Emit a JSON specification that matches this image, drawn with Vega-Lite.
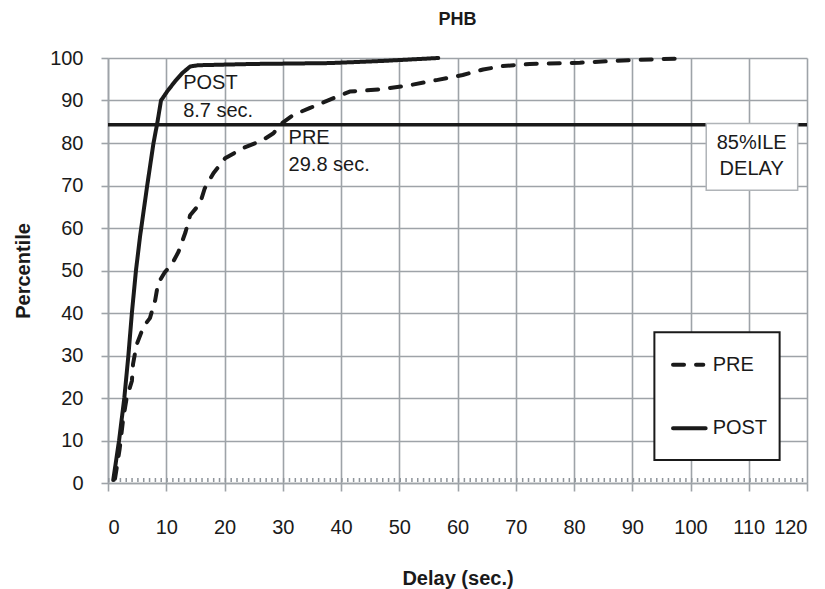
{
  "$schema": "https://vega.github.io/schema/vega-lite/v6.json",
  "autosize": "none",
  "width": 699,
  "height": 425,
  "padding": {"left": 108, "top": 58, "right": 18, "bottom": 106},
  "background": "white",
  "title": {"text": "PHB", "font": "Liberation Sans", "fontSize": 18, "fontWeight": "bold", "color": "#1a1a1a", "offset": 19, "anchor": "middle"},
  "config": {
    "view": {"stroke": null},
    "font": "Liberation Sans",
    "axis": {
      "gridColor": "#9ea3a8", "gridWidth": 1.6, "gridOpacity": 1,
      "domainColor": "#9ea3a8", "domainWidth": 1.6,
      "tickColor": "#9ea3a8", "tickWidth": 1.6,
      "labelFont": "Liberation Sans", "labelFontSize": 20, "labelColor": "#1a1a1a",
      "titleFont": "Liberation Sans", "titleFontSize": 20, "titleFontWeight": "bold", "titleColor": "#1a1a1a"
    }
  },
  "datasets": {
    "curves": [
      {"series": "POST", "delay": 0.9, "pct": 0.7},
      {"series": "POST", "delay": 1.9, "pct": 10},
      {"series": "POST", "delay": 2.8, "pct": 20},
      {"series": "POST", "delay": 3.5, "pct": 30},
      {"series": "POST", "delay": 4.1, "pct": 40},
      {"series": "POST", "delay": 4.8, "pct": 50},
      {"series": "POST", "delay": 5.5, "pct": 58},
      {"series": "POST", "delay": 6.7, "pct": 69.7},
      {"series": "POST", "delay": 7.8, "pct": 79.9},
      {"series": "POST", "delay": 8.5, "pct": 85},
      {"series": "POST", "delay": 9.1, "pct": 90},
      {"series": "POST", "delay": 10.2, "pct": 92.2},
      {"series": "POST", "delay": 11.5, "pct": 94.5},
      {"series": "POST", "delay": 12.8, "pct": 96.5},
      {"series": "POST", "delay": 14.1, "pct": 98},
      {"series": "POST", "delay": 15.5, "pct": 98.3},
      {"series": "POST", "delay": 25, "pct": 98.6},
      {"series": "POST", "delay": 38, "pct": 98.8},
      {"series": "POST", "delay": 47, "pct": 99.3},
      {"series": "POST", "delay": 56.7, "pct": 100},
      {"series": "PRE", "delay": 1.2, "pct": 1},
      {"series": "PRE", "delay": 2.0, "pct": 8},
      {"series": "PRE", "delay": 2.6, "pct": 15},
      {"series": "PRE", "delay": 3.2, "pct": 20},
      {"series": "PRE", "delay": 4.1, "pct": 24},
      {"series": "PRE", "delay": 4.3, "pct": 28},
      {"series": "PRE", "delay": 4.9, "pct": 32.5},
      {"series": "PRE", "delay": 6.1, "pct": 36.8},
      {"series": "PRE", "delay": 7.2, "pct": 38.8},
      {"series": "PRE", "delay": 8.1, "pct": 43},
      {"series": "PRE", "delay": 8.6, "pct": 47},
      {"series": "PRE", "delay": 9.8, "pct": 49.7},
      {"series": "PRE", "delay": 10.9, "pct": 51.3},
      {"series": "PRE", "delay": 12.1, "pct": 54.4},
      {"series": "PRE", "delay": 13.3, "pct": 59},
      {"series": "PRE", "delay": 14.1, "pct": 63},
      {"series": "PRE", "delay": 15.8, "pct": 65.8},
      {"series": "PRE", "delay": 16.6, "pct": 69.3},
      {"series": "PRE", "delay": 18.1, "pct": 72.9},
      {"series": "PRE", "delay": 20.1, "pct": 76.4},
      {"series": "PRE", "delay": 23.2, "pct": 78.8},
      {"series": "PRE", "delay": 26.6, "pct": 80.7},
      {"series": "PRE", "delay": 28.4, "pct": 82.3},
      {"series": "PRE", "delay": 29.8, "pct": 84.6},
      {"series": "PRE", "delay": 31.8, "pct": 86.6},
      {"series": "PRE", "delay": 34.6, "pct": 88.2},
      {"series": "PRE", "delay": 38.1, "pct": 90.2},
      {"series": "PRE", "delay": 41.5, "pct": 92.1},
      {"series": "PRE", "delay": 46.7, "pct": 92.6},
      {"series": "PRE", "delay": 51.8, "pct": 93.6},
      {"series": "PRE", "delay": 56.4, "pct": 94.8},
      {"series": "PRE", "delay": 60.9, "pct": 96},
      {"series": "PRE", "delay": 64.4, "pct": 97.3},
      {"series": "PRE", "delay": 67.8, "pct": 98.1},
      {"series": "PRE", "delay": 72.4, "pct": 98.6},
      {"series": "PRE", "delay": 81, "pct": 98.9},
      {"series": "PRE", "delay": 89.5, "pct": 99.5},
      {"series": "PRE", "delay": 98.7, "pct": 99.9}
    ],
    "minor": [{"x": 0, "x2": 120, "y": 0.7}],
    "threshold": [{"x": 0, "x2": 120, "y": 84.3}],
    "boxes": [
      {"name": "note", "x": 102.7, "x2": 118.4, "y": 68.9, "y2": 84.6},
      {"name": "legend", "x": 93.8, "x2": 115.3, "y": 5.4, "y2": 35.5}
    ],
    "legendLines": [
      {"series": "PRE", "x": 97.0, "x2": 102.2, "y": 27.8},
      {"series": "POST", "x": 97.0, "x2": 102.6, "y": 12.9}
    ],
    "labelsLeft": [
      {"x": 12.9, "y": 94.1, "label": "POST"},
      {"x": 12.9, "y": 87.5, "label": "8.7 sec."},
      {"x": 31.0, "y": 81.2, "label": "PRE"},
      {"x": 31.0, "y": 74.8, "label": "29.8 sec."},
      {"x": 103.8, "y": 27.8, "label": "PRE"},
      {"x": 103.8, "y": 12.9, "label": "POST"}
    ],
    "labelsCenter": [
      {"x": 110.5, "y": 80.0, "label": "85%ILE"},
      {"x": 110.5, "y": 73.9, "label": "DELAY"}
    ]
  },
  "layer": [
    {
      "data": {"name": "minor"},
      "mark": {"type": "rule", "color": "#8f959b", "strokeWidth": 4, "strokeDash": [1.5, 4.33]},
      "encoding": {
        "x": {"field": "x", "type": "quantitative", "scale": {"domain": [0, 120], "nice": false},
          "axis": {"values": [0,10,20,30,40,50,60,70,80,90,100,110,120], "title": "Delay (sec.)", "tickSize": 8, "labelPadding": 26, "labelBaseline": "top", "titleY": 95, "titleBaseline": "middle"}},
        "x2": {"field": "x2"},
        "y": {"field": "y", "type": "quantitative", "scale": {"domain": [0, 100], "nice": false},
          "axis": {"values": [0,10,20,30,40,50,60,70,80,90,100], "title": "Percentile", "tickSize": 7, "labelPadding": 18, "labelBaseline": "middle", "titleX": -85, "titleBaseline": "middle"}}
      }
    },
    {
      "data": {"name": "threshold"},
      "mark": {"type": "rule", "color": "#1a1a1a", "strokeWidth": 3.5},
      "encoding": {
        "x": {"field": "x", "type": "quantitative"},
        "x2": {"field": "x2"},
        "y": {"field": "y", "type": "quantitative"}
      }
    },
    {
      "data": {"name": "curves"},
      "mark": {"type": "line", "color": "#1a1a1a", "strokeWidth": 4, "strokeCap": "round", "strokeJoin": "round"},
      "encoding": {
        "x": {"field": "delay", "type": "quantitative"},
        "y": {"field": "pct", "type": "quantitative"},
        "detail": {"field": "series"},
        "strokeDash": {"field": "series", "type": "nominal", "scale": {"domain": ["PRE", "POST"], "range": [[11, 12], [1, 0]]}, "legend": null}
      }
    },
    {
      "data": {"name": "boxes"},
      "mark": {"type": "rect", "fill": "white"},
      "encoding": {
        "x": {"field": "x", "type": "quantitative"},
        "x2": {"field": "x2"},
        "y": {"field": "y", "type": "quantitative"},
        "y2": {"field": "y2"},
        "stroke": {"field": "name", "type": "nominal", "scale": {"domain": ["note", "legend"], "range": ["#b0b4b8", "#1a1a1a"]}, "legend": null},
        "strokeWidth": {"field": "name", "type": "nominal", "scale": {"domain": ["note", "legend"], "range": [1.5, 2]}, "legend": null}
      }
    },
    {
      "data": {"name": "legendLines"},
      "mark": {"type": "rule", "color": "#1a1a1a", "strokeWidth": 4, "strokeCap": "round"},
      "encoding": {
        "x": {"field": "x", "type": "quantitative"},
        "x2": {"field": "x2"},
        "y": {"field": "y", "type": "quantitative"},
        "strokeDash": {"field": "series", "type": "nominal", "scale": {"domain": ["PRE", "POST"], "range": [[9, 12], [1, 0]]}, "legend": null}
      }
    },
    {
      "data": {"name": "labelsLeft"},
      "mark": {"type": "text", "align": "left", "baseline": "middle", "fontSize": 20, "font": "Liberation Sans", "color": "#1a1a1a"},
      "encoding": {
        "x": {"field": "x", "type": "quantitative"},
        "y": {"field": "y", "type": "quantitative"},
        "text": {"field": "label"}
      }
    },
    {
      "data": {"name": "labelsCenter"},
      "mark": {"type": "text", "align": "center", "baseline": "middle", "fontSize": 20, "font": "Liberation Sans", "color": "#1a1a1a"},
      "encoding": {
        "x": {"field": "x", "type": "quantitative"},
        "y": {"field": "y", "type": "quantitative"},
        "text": {"field": "label"}
      }
    }
  ]
}
